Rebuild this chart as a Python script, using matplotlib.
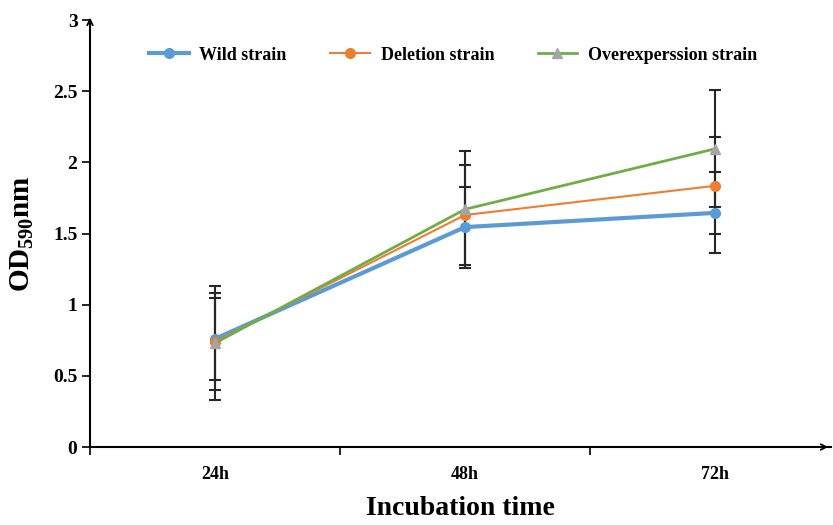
import numpy as np
import matplotlib.pyplot as plt
from matplotlib.ticker import FuncFormatter

# values
times = ["24h", "48h", "72h"]
wild = [0.76, 1.545, 1.645]
deletion = [0.74, 1.63, 1.835]
overexp = [0.73, 1.67, 2.095]
wild_err = [0.29, 0.285, 0.285]
deletion_err = [0.34, 0.35, 0.34]
overexp_err = [0.40, 0.41, 0.41]

plt.rcParams['font.family'] = ['Liberation Serif', 'DejaVu Serif']
plt.rcParams['font.weight'] = 'bold'
plt.rcParams['mathtext.fontset'] = 'custom'
plt.rcParams['mathtext.rm'] = 'Liberation Serif:bold'
plt.rcParams['mathtext.it'] = 'Liberation Serif:bold'

fig = plt.figure(figsize=(8.33, 5.25), dpi=100)
ax = fig.add_axes([90/833, 78/525, 741/833, 427/525])

x = np.arange(len(times)) + 0.5

# error bars first so lines sit on top
for vals, errs in ((wild, wild_err), (deletion, deletion_err), (overexp, overexp_err)):
    ax.errorbar(x, vals, yerr=errs, fmt='none', ecolor='#262626',
                elinewidth=1.5, capsize=4, capthick=1.5, zorder=2)

ax.plot(x, wild, '-o', color='#5B9BD5', lw=3, ms=7, label='Wild strain', zorder=3)
ax.plot(x, deletion, '-o', color='#ED7D31', lw=1.5, ms=7, label='Deletion strain', zorder=4)
ax.plot(x, overexp, '-^', color='#70AD47', mfc='#A5A5A5', mec='#A5A5A5',
        lw=2, ms=7, label='Overexperssion strain', zorder=5)

ax.set_xlim(0, 741/250)
ax.set_ylim(0, 3)
ax.set_yticks(np.arange(0, 3.01, 0.5))
ax.yaxis.set_major_formatter(FuncFormatter(lambda v, p: ('%g' % v)))
ax.set_xticks(x)
ax.set_xticklabels(times)
ax.set_xticks([0, 1, 2], minor=True)
ax.tick_params(axis='x', which='major', length=0, pad=14, labelsize=13)
ax.tick_params(axis='x', which='minor', length=6, width=1.2, direction='out')
ax.tick_params(axis='y', length=6, width=1.2, direction='out', labelsize=14, pad=3)

for s in ('top', 'right'):
    ax.spines[s].set_visible(False)
for s in ('left', 'bottom'):
    ax.spines[s].set_linewidth(1.5)
    ax.spines[s].set_color('black')

# arrowheads on axes
ax.annotate('', xy=(0, 1.012), xytext=(0, 0.98), xycoords='axes fraction',
            arrowprops=dict(arrowstyle='->', lw=1.3, color='black'))
ax.annotate('', xy=(1.0, 0), xytext=(0.98, 0), xycoords='axes fraction',
            arrowprops=dict(arrowstyle='->', lw=1.3, color='black'))

ax.set_ylabel('OD$_{590}$nm', fontsize=21, fontweight='bold', labelpad=12)
ax.set_xlabel('Incubation time', fontsize=20, fontweight='bold', labelpad=9)

ax.legend(loc='center', bbox_to_anchor=(0.49, 0.918), ncol=3, frameon=False,
          fontsize=13, handlelength=2.2, columnspacing=2.4, handletextpad=0.6)

fig.savefig('out.png', dpi=100)
